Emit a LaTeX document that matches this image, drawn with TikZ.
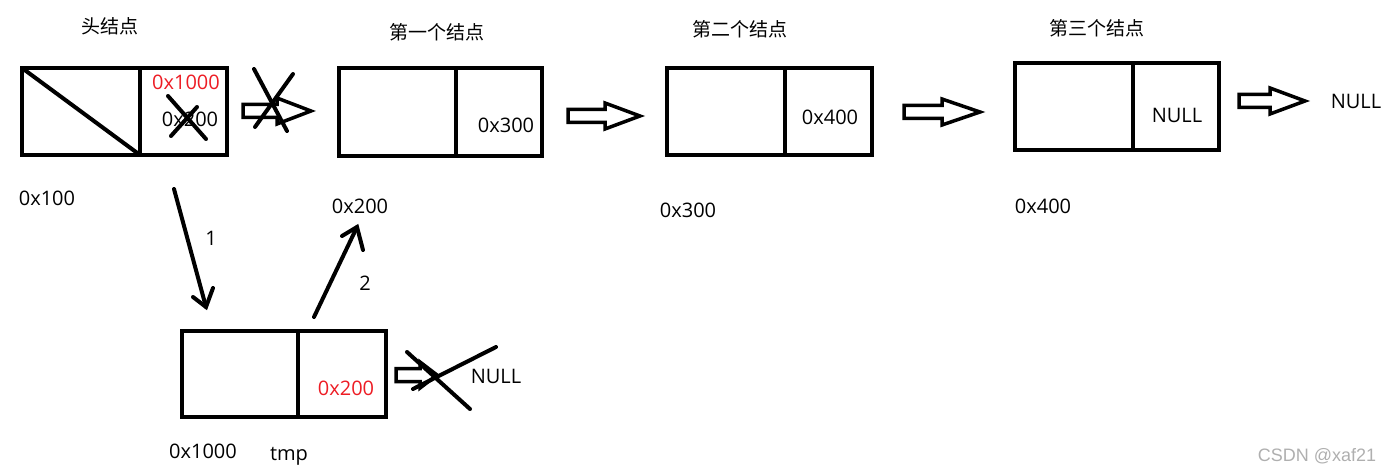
\documentclass[tikz,border=0pt]{standalone}
\usepackage{fontspec}
\setmainfont{Open Sans}
\newfontfamily\cjk{Noto Sans CJK SC}
\newfontfamily\wm{Liberation Sans}
\usetikzlibrary{calc}
\definecolor{redtxt}{RGB}{237,28,36}
\definecolor{wmgray}{RGB}{175,175,175}
\tikzset{
  box/.style={draw, line width=4pt, line join=miter},
  thin line/.style={line width=4pt, line cap=round},
  lbl/.style={inner sep=0pt, font=\fontsize{20}{20}\selectfont},
  cn/.style={inner sep=0pt, font=\cjk\fontsize{19}{19}\selectfont},
  hollow/.style={draw, line width=3.5pt, line join=miter, fill=white},
}
% hollow block arrow: #1 start x, #2 end x, #3 centre y, #4 shaft end x
\newcommand\hollowarrow[4]{%
  \draw[hollow] (#1,#3-6.5) -- (#4,#3-6.5) -- (#4,#3-13) -- (#2,#3) -- (#4,#3+13) -- (#4,#3+6.5) -- (#1,#3+6.5) -- cycle;}
\begin{document}
\begin{tikzpicture}[x=1pt,y=-1pt]
\useasboundingbox (0,0) rectangle (1393,473);
% ---------- head node
\coordinate (h1) at (22,68); \coordinate (h2) at (227,155);
\draw[box] (h1) rectangle (h2);
\draw[box] (140,68) -- (140,155);
\draw[line width=4pt] (h1) -- (140,155);
\node[lbl, text=redtxt] (hnext) at (186,82) {0x1000};
\node[lbl] (hold) at (190,119) {0x200};
\draw[thin line] (168,96) -- (206,139);
\draw[thin line] (171,136) -- (197,107);
\node[cn] (hlab) at (110,26) {头结点};
\node[lbl] (haddr) at (47,198) {0x100};
% crossed hollow arrow
\hollowarrow{243}{311}{111}{277}
\draw[thin line] (254,69) -- (287,131);
\draw[thin line] (293,74) -- (255,127);
% ---------- first node
\draw[box] (339,68) rectangle (542,156);
\draw[box] (456,68) -- (456,156);
\node[lbl] (n1d) at (506,125) {0x300};
\node[cn] (n1lab) at (437,32) {第一个结点};
\node[lbl] (n1addr) at (360,206) {0x200};
\hollowarrow{568}{640}{116}{605}
% ---------- second node
\draw[box] (667,68) rectangle (872,155);
\draw[box] (785,68) -- (785,155);
\node[lbl] (n2d) at (830,117) {0x400};
\node[cn] (n2lab) at (740,29) {第二个结点};
\node[lbl] (n2addr) at (688,210) {0x300};
\hollowarrow{904}{980}{112}{942}
% ---------- third node
\draw[box] (1015,63) rectangle (1219,150);
\draw[box] (1133,63) -- (1133,150);
\node[lbl] (n3d) at (1177,115) {NULL};
\node[cn] (n3lab) at (1097,28) {第三个结点};
\node[lbl] (n3addr) at (1043,206) {0x400};
\hollowarrow{1239}{1305}{101}{1270}
\node[lbl] (null1) at (1356,101) {NULL};
% ---------- tmp node
\draw[box] (182,331) rectangle (386,417);
\draw[box] (298,331) -- (298,417);
\node[lbl, text=redtxt] (tnext) at (346,388) {0x200};
\node[lbl] (taddr) at (203,451) {0x1000};
\node[lbl] (tname) at (289,456) {tmp};
\hollowarrow{396}{437}{375}{420}
\draw[thin line] (407,352) -- (470,409);
\draw[thin line] (413,389) -- (496,347);
\node[lbl] (null2) at (496,376) {NULL};
% ---------- step arrows
\coordinate (a1s) at (174,189); \coordinate (a1e) at (206,307);
\draw[thin line] (a1s) -- (a1e);
\draw[thin line] (193,297) -- (a1e) -- (213,288);
\node[lbl] (l1) at (211,238) {1};
\coordinate (a2s) at (314,317); \coordinate (a2e) at (357,227);
\draw[thin line] (a2s) -- (a2e);
\draw[thin line] (342,236) -- (a2e) -- (363,250);
\node[lbl] (l2) at (365,283) {2};
% ---------- watermark
\node[inner sep=0pt, text=wmgray, font=\wm\fontsize{18}{18}\selectfont] (wmk) at (1317,456) {CSDN @xaf21};
\end{tikzpicture}
\end{document}
